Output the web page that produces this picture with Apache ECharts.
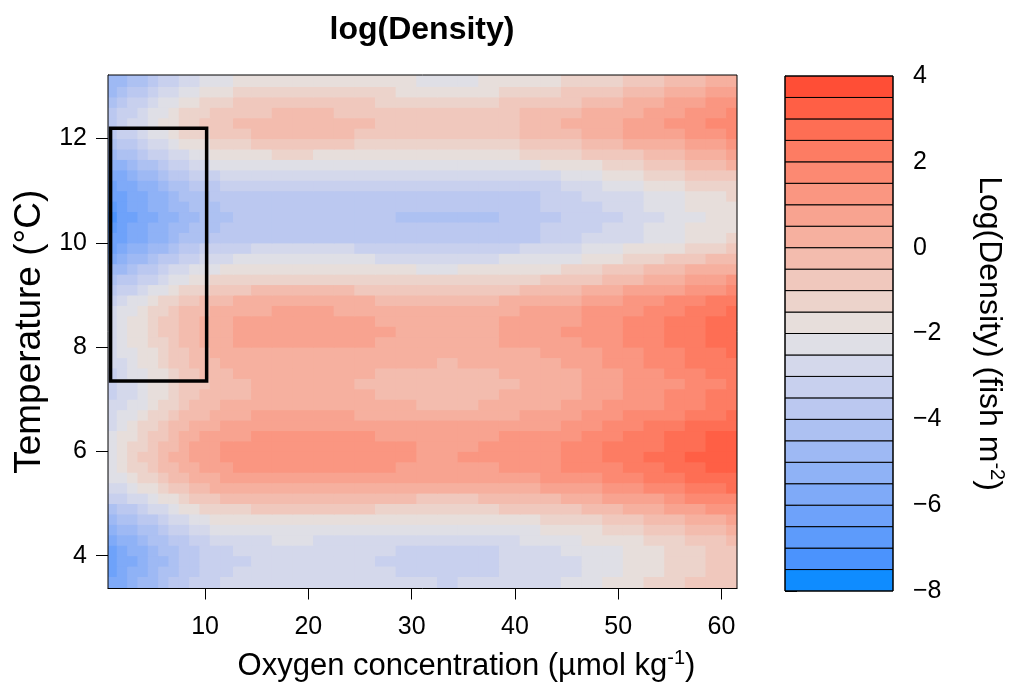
<!DOCTYPE html>
<html>
<head>
<meta charset="utf-8">
<script src="https://cdn.jsdelivr.net/npm/echarts@6/dist/echarts.min.js"></script>
<style>
  html, body { margin: 0; padding: 0; background: #fff; }
  #chart { width: 1011px; height: 687px; }
</style>
</head>
<body>
<div id="chart"></div>
<script>
// cell centres of the modelled surface (finer steps where the gradient is steep)
const oxygen = [1, 2, 3, 4, 5, 6, 7, 8, 9, 10, 11, 12,
  13.5, 15.5, 17.5, 19.5, 21.5, 23.5, 25.5, 27.5, 29.5, 31.5, 33.5, 35.5, 37.5,
  39.5, 41.5, 43.5, 45.5, 47.5, 49.5, 51.5, 53.5, 55.5, 57.5, 59.5, 61.5];
const temperature = [3.5, 3.7, 3.9, 4.1, 4.3, 4.5, 4.7, 4.9, 5.1, 5.3, 5.5, 5.7, 5.9, 6.1, 6.3,
  6.5, 6.7, 6.9, 7.1, 7.3, 7.5, 7.7, 7.9, 8.1, 8.3, 8.5, 8.7, 8.9, 9.1, 9.3, 9.5, 9.7, 9.9,
  10.1, 10.3, 10.5, 10.7, 10.9, 11.1, 11.3, 11.5, 11.7, 11.9, 12.1, 12.3, 12.5, 12.7, 12.9, 13.1];

// log(density): one row per temperature (bottom to top), one column per oxygen value
const logDensity = [
  [-5.91, -5.60, -5.29, -4.98, -4.66, -4.31, -3.98, -3.69, -3.44, -3.25, -3.08, -2.94, -2.80, -2.72, -2.68, -2.68, -2.69, -2.72, -2.78, -2.85, -2.93, -3.00, -3.03, -2.98, -2.90, -2.78, -2.68, -2.54, -2.36, -2.15, -1.94, -1.71, -1.48, -1.24, -0.96, -0.76, -0.58],
  [-6.06, -5.75, -5.44, -5.13, -4.81, -4.46, -4.13, -3.84, -3.59, -3.40, -3.23, -3.09, -2.95, -2.87, -2.83, -2.83, -2.84, -2.87, -2.93, -3.00, -3.08, -3.15, -3.18, -3.13, -3.05, -2.93, -2.83, -2.69, -2.51, -2.30, -2.09, -1.86, -1.63, -1.39, -1.11, -0.91, -0.73],
  [-6.13, -5.82, -5.51, -5.20, -4.88, -4.53, -4.20, -3.91, -3.66, -3.47, -3.30, -3.16, -3.02, -2.94, -2.90, -2.90, -2.91, -2.94, -3.00, -3.07, -3.15, -3.22, -3.25, -3.20, -3.12, -3.00, -2.90, -2.76, -2.58, -2.37, -2.16, -1.93, -1.70, -1.46, -1.18, -0.98, -0.80],
  [-6.03, -5.72, -5.41, -5.10, -4.78, -4.43, -4.10, -3.81, -3.56, -3.37, -3.20, -3.06, -2.92, -2.84, -2.80, -2.80, -2.81, -2.84, -2.90, -2.97, -3.05, -3.12, -3.15, -3.10, -3.02, -2.90, -2.80, -2.66, -2.48, -2.27, -2.06, -1.83, -1.60, -1.36, -1.08, -0.88, -0.70],
  [-5.73, -5.42, -5.11, -4.80, -4.48, -4.13, -3.80, -3.51, -3.26, -3.07, -2.90, -2.76, -2.62, -2.54, -2.50, -2.50, -2.51, -2.54, -2.60, -2.67, -2.75, -2.82, -2.85, -2.80, -2.72, -2.60, -2.50, -2.36, -2.18, -1.97, -1.76, -1.53, -1.30, -1.06, -0.78, -0.58, -0.40],
  [-5.31, -5.00, -4.69, -4.38, -4.06, -3.71, -3.38, -3.09, -2.84, -2.65, -2.48, -2.34, -2.20, -2.12, -2.08, -2.08, -2.09, -2.12, -2.18, -2.25, -2.33, -2.40, -2.43, -2.38, -2.30, -2.18, -2.08, -1.94, -1.76, -1.55, -1.34, -1.11, -0.88, -0.64, -0.36, -0.16, 0.02],
  [-4.78, -4.47, -4.16, -3.85, -3.53, -3.18, -2.85, -2.56, -2.31, -2.12, -1.95, -1.81, -1.67, -1.59, -1.55, -1.55, -1.56, -1.59, -1.65, -1.72, -1.80, -1.87, -1.90, -1.85, -1.77, -1.65, -1.55, -1.41, -1.23, -1.02, -0.81, -0.58, -0.35, -0.11, 0.17, 0.37, 0.55],
  [-4.13, -3.82, -3.51, -3.20, -2.88, -2.53, -2.20, -1.91, -1.66, -1.47, -1.30, -1.16, -1.02, -0.94, -0.90, -0.90, -0.91, -0.94, -1.00, -1.07, -1.15, -1.22, -1.25, -1.20, -1.12, -1.00, -0.90, -0.76, -0.58, -0.37, -0.16, 0.07, 0.30, 0.54, 0.82, 1.02, 1.20],
  [-3.45, -3.14, -2.83, -2.52, -2.20, -1.85, -1.52, -1.23, -0.98, -0.79, -0.62, -0.48, -0.34, -0.26, -0.22, -0.22, -0.23, -0.26, -0.32, -0.39, -0.47, -0.54, -0.57, -0.52, -0.44, -0.32, -0.22, -0.08, 0.10, 0.31, 0.52, 0.75, 0.98, 1.22, 1.50, 1.70, 1.88],
  [-2.83, -2.52, -2.21, -1.90, -1.58, -1.23, -0.90, -0.61, -0.36, -0.17, 0.00, 0.14, 0.28, 0.36, 0.40, 0.40, 0.39, 0.36, 0.30, 0.23, 0.15, 0.08, 0.05, 0.10, 0.18, 0.30, 0.40, 0.54, 0.72, 0.93, 1.14, 1.37, 1.60, 1.84, 2.12, 2.32, 2.50],
  [-2.50, -2.04, -1.73, -1.42, -1.10, -0.75, -0.42, -0.13, 0.12, 0.31, 0.48, 0.62, 0.76, 0.84, 0.88, 0.88, 0.87, 0.84, 0.78, 0.71, 0.63, 0.56, 0.53, 0.58, 0.66, 0.78, 0.88, 1.02, 1.20, 1.41, 1.62, 1.85, 2.08, 2.32, 2.60, 2.80, 2.98],
  [-2.30, -1.74, -1.43, -1.12, -0.80, -0.45, -0.12, 0.17, 0.42, 0.61, 0.78, 0.92, 1.06, 1.14, 1.18, 1.18, 1.17, 1.14, 1.08, 1.01, 0.93, 0.86, 0.83, 0.88, 0.96, 1.08, 1.18, 1.32, 1.50, 1.71, 1.92, 2.15, 2.38, 2.62, 2.90, 3.10, 3.28],
  [-2.20, -1.64, -1.31, -1.00, -0.68, -0.33, 0.00, 0.29, 0.54, 0.73, 0.90, 1.04, 1.18, 1.26, 1.30, 1.30, 1.29, 1.26, 1.20, 1.13, 1.05, 0.98, 0.95, 1.00, 1.08, 1.20, 1.30, 1.44, 1.62, 1.83, 2.04, 2.27, 2.50, 2.74, 3.02, 3.22, 3.40],
  [-2.22, -1.67, -1.34, -1.03, -0.71, -0.36, -0.03, 0.26, 0.51, 0.70, 0.87, 1.01, 1.15, 1.23, 1.27, 1.27, 1.26, 1.23, 1.17, 1.10, 1.02, 0.95, 0.92, 0.97, 1.05, 1.17, 1.27, 1.41, 1.59, 1.80, 2.01, 2.24, 2.47, 2.71, 2.99, 3.19, 3.37],
  [-2.35, -1.84, -1.51, -1.20, -0.88, -0.53, -0.20, 0.09, 0.34, 0.53, 0.70, 0.84, 0.98, 1.06, 1.10, 1.10, 1.09, 1.06, 1.00, 0.93, 0.85, 0.78, 0.75, 0.80, 0.88, 1.00, 1.10, 1.24, 1.42, 1.63, 1.84, 2.07, 2.30, 2.54, 2.82, 3.02, 3.20],
  [-2.55, -2.07, -1.76, -1.45, -1.13, -0.78, -0.45, -0.16, 0.09, 0.28, 0.45, 0.59, 0.73, 0.81, 0.85, 0.85, 0.84, 0.81, 0.75, 0.68, 0.60, 0.53, 0.50, 0.55, 0.63, 0.75, 0.85, 0.99, 1.17, 1.38, 1.59, 1.82, 2.05, 2.29, 2.57, 2.77, 2.95],
  [-2.68, -2.37, -2.06, -1.75, -1.43, -1.08, -0.75, -0.46, -0.21, -0.02, 0.15, 0.29, 0.43, 0.51, 0.55, 0.55, 0.54, 0.51, 0.45, 0.38, 0.30, 0.23, 0.20, 0.25, 0.33, 0.45, 0.55, 0.69, 0.87, 1.08, 1.29, 1.52, 1.75, 1.99, 2.27, 2.47, 2.65],
  [-2.96, -2.65, -2.34, -2.03, -1.71, -1.36, -1.03, -0.74, -0.49, -0.30, -0.13, 0.01, 0.15, 0.23, 0.27, 0.27, 0.26, 0.23, 0.17, 0.10, 0.02, -0.05, -0.08, -0.03, 0.05, 0.17, 0.27, 0.41, 0.59, 0.80, 1.01, 1.24, 1.47, 1.71, 1.99, 2.19, 2.37],
  [-3.13, -2.82, -2.51, -2.20, -1.88, -1.53, -1.20, -0.91, -0.66, -0.47, -0.30, -0.16, -0.02, 0.06, 0.10, 0.10, 0.09, 0.06, 0.00, -0.07, -0.15, -0.22, -0.25, -0.20, -0.12, 0.00, 0.10, 0.24, 0.42, 0.63, 0.84, 1.07, 1.30, 1.54, 1.82, 2.02, 2.20],
  [-3.18, -2.87, -2.56, -2.25, -1.93, -1.58, -1.25, -0.96, -0.71, -0.52, -0.35, -0.21, -0.07, 0.01, 0.05, 0.05, 0.04, 0.01, -0.05, -0.12, -0.20, -0.27, -0.30, -0.25, -0.17, -0.05, 0.05, 0.19, 0.37, 0.58, 0.79, 1.02, 1.25, 1.49, 1.77, 1.97, 2.15],
  [-3.11, -2.80, -2.49, -2.18, -1.86, -1.51, -1.18, -0.89, -0.64, -0.45, -0.28, -0.14, 0.00, 0.08, 0.12, 0.12, 0.11, 0.08, 0.02, -0.05, -0.13, -0.20, -0.23, -0.18, -0.10, 0.02, 0.12, 0.26, 0.44, 0.65, 0.86, 1.09, 1.32, 1.56, 1.84, 2.04, 2.22],
  [-2.91, -2.60, -2.29, -1.98, -1.66, -1.31, -0.98, -0.69, -0.44, -0.25, -0.08, 0.06, 0.20, 0.28, 0.32, 0.32, 0.31, 0.28, 0.22, 0.15, 0.07, 0.00, -0.03, 0.02, 0.10, 0.22, 0.32, 0.46, 0.64, 0.85, 1.06, 1.29, 1.52, 1.76, 2.04, 2.24, 2.42],
  [-2.78, -2.47, -2.16, -1.85, -1.53, -1.18, -0.85, -0.56, -0.31, -0.12, 0.05, 0.19, 0.33, 0.41, 0.45, 0.45, 0.44, 0.41, 0.35, 0.28, 0.20, 0.13, 0.10, 0.15, 0.23, 0.35, 0.45, 0.59, 0.77, 0.98, 1.19, 1.42, 1.65, 1.89, 2.17, 2.37, 2.55],
  [-2.61, -2.30, -1.99, -1.68, -1.36, -1.01, -0.68, -0.39, -0.14, 0.05, 0.22, 0.36, 0.50, 0.58, 0.62, 0.62, 0.61, 0.58, 0.52, 0.45, 0.37, 0.30, 0.27, 0.32, 0.40, 0.52, 0.62, 0.76, 0.94, 1.15, 1.36, 1.59, 1.82, 2.06, 2.34, 2.54, 2.72],
  [-2.55, -2.24, -1.93, -1.62, -1.30, -0.95, -0.62, -0.33, -0.08, 0.11, 0.28, 0.42, 0.56, 0.64, 0.68, 0.68, 0.67, 0.64, 0.58, 0.51, 0.43, 0.36, 0.33, 0.38, 0.46, 0.58, 0.68, 0.82, 1.00, 1.21, 1.42, 1.65, 1.88, 2.12, 2.40, 2.60, 2.78],
  [-2.60, -2.29, -1.98, -1.67, -1.35, -1.00, -0.67, -0.38, -0.13, 0.06, 0.23, 0.37, 0.51, 0.59, 0.63, 0.63, 0.62, 0.59, 0.53, 0.46, 0.38, 0.31, 0.28, 0.33, 0.41, 0.53, 0.63, 0.77, 0.95, 1.16, 1.37, 1.60, 1.83, 2.07, 2.35, 2.55, 2.73],
  [-2.71, -2.40, -2.09, -1.78, -1.46, -1.11, -0.78, -0.49, -0.24, -0.05, 0.12, 0.26, 0.40, 0.48, 0.52, 0.52, 0.51, 0.48, 0.42, 0.35, 0.27, 0.20, 0.17, 0.22, 0.30, 0.42, 0.52, 0.66, 0.84, 1.05, 1.26, 1.49, 1.72, 1.96, 2.24, 2.44, 2.62],
  [-3.08, -2.77, -2.46, -2.15, -1.83, -1.48, -1.15, -0.86, -0.61, -0.42, -0.25, -0.11, 0.03, 0.11, 0.15, 0.15, 0.14, 0.11, 0.05, -0.02, -0.10, -0.17, -0.20, -0.15, -0.07, 0.05, 0.15, 0.29, 0.47, 0.68, 0.89, 1.12, 1.35, 1.59, 1.87, 2.07, 2.25],
  [-3.68, -3.37, -3.06, -2.75, -2.43, -2.08, -1.75, -1.46, -1.21, -1.02, -0.85, -0.71, -0.57, -0.49, -0.45, -0.45, -0.46, -0.49, -0.55, -0.62, -0.70, -0.77, -0.80, -0.75, -0.67, -0.55, -0.45, -0.31, -0.13, 0.08, 0.29, 0.52, 0.75, 0.99, 1.27, 1.47, 1.65],
  [-4.28, -3.97, -3.66, -3.35, -3.03, -2.68, -2.35, -2.06, -1.81, -1.62, -1.45, -1.31, -1.17, -1.09, -1.05, -1.05, -1.06, -1.09, -1.15, -1.22, -1.30, -1.37, -1.40, -1.35, -1.27, -1.15, -1.05, -0.91, -0.73, -0.52, -0.31, -0.08, 0.15, 0.39, 0.67, 0.87, 1.05],
  [-4.93, -4.62, -4.31, -4.00, -3.68, -3.33, -3.00, -2.71, -2.46, -2.27, -2.10, -1.96, -1.82, -1.74, -1.70, -1.70, -1.71, -1.74, -1.80, -1.87, -1.95, -2.02, -2.05, -2.00, -1.92, -1.80, -1.70, -1.56, -1.38, -1.17, -0.96, -0.73, -0.50, -0.26, 0.02, 0.22, 0.40],
  [-5.58, -5.27, -4.96, -4.65, -4.33, -3.98, -3.65, -3.36, -3.11, -2.92, -2.75, -2.61, -2.47, -2.39, -2.35, -2.35, -2.36, -2.39, -2.45, -2.52, -2.60, -2.67, -2.70, -2.65, -2.57, -2.45, -2.35, -2.21, -2.03, -1.82, -1.61, -1.38, -1.15, -0.91, -0.63, -0.43, -0.25],
  [-6.03, -5.73, -5.44, -5.14, -4.85, -4.52, -4.21, -3.94, -3.69, -3.50, -3.34, -3.21, -3.07, -2.99, -2.95, -2.95, -2.96, -2.99, -3.05, -3.12, -3.20, -3.27, -3.30, -3.25, -3.17, -3.05, -2.95, -2.81, -2.63, -2.42, -2.21, -1.98, -1.75, -1.51, -1.23, -1.03, -0.85],
  [-6.45, -6.16, -5.88, -5.60, -5.33, -5.03, -4.74, -4.48, -4.24, -4.05, -3.90, -3.77, -3.64, -3.56, -3.52, -3.52, -3.53, -3.56, -3.62, -3.69, -3.77, -3.84, -3.87, -3.82, -3.74, -3.62, -3.52, -3.38, -3.20, -2.99, -2.78, -2.55, -2.32, -2.08, -1.80, -1.60, -1.42],
  [-6.90, -6.27, -5.99, -5.71, -5.44, -5.14, -4.85, -4.59, -4.35, -4.16, -4.01, -3.88, -3.75, -3.67, -3.63, -3.63, -3.64, -3.67, -3.73, -3.80, -3.88, -3.95, -3.98, -3.93, -3.85, -3.73, -3.63, -3.49, -3.31, -3.10, -2.89, -2.66, -2.43, -2.19, -1.91, -1.71, -1.53],
  [-7.05, -6.44, -6.16, -5.88, -5.61, -5.31, -5.02, -4.76, -4.52, -4.33, -4.18, -4.05, -3.92, -3.84, -3.80, -3.80, -3.81, -3.84, -3.90, -3.97, -4.05, -4.12, -4.15, -4.10, -4.02, -3.90, -3.80, -3.66, -3.48, -3.27, -3.06, -2.83, -2.60, -2.36, -2.08, -1.88, -1.70],
  [-6.90, -6.27, -5.99, -5.71, -5.44, -5.14, -4.85, -4.59, -4.35, -4.16, -4.01, -3.88, -3.75, -3.67, -3.63, -3.63, -3.64, -3.67, -3.73, -3.80, -3.88, -3.95, -3.98, -3.93, -3.85, -3.73, -3.63, -3.49, -3.31, -3.10, -2.89, -2.66, -2.43, -2.19, -1.91, -1.71, -1.53],
  [-6.45, -6.16, -5.88, -5.60, -5.33, -5.03, -4.74, -4.48, -4.24, -4.05, -3.90, -3.77, -3.64, -3.56, -3.52, -3.52, -3.53, -3.56, -3.62, -3.69, -3.77, -3.84, -3.87, -3.82, -3.74, -3.62, -3.52, -3.38, -3.20, -2.99, -2.78, -2.55, -2.32, -2.08, -1.80, -1.60, -1.42],
  [-6.23, -5.93, -5.64, -5.34, -5.05, -4.72, -4.41, -4.14, -3.89, -3.70, -3.54, -3.41, -3.27, -3.19, -3.15, -3.15, -3.16, -3.19, -3.25, -3.32, -3.40, -3.47, -3.50, -3.45, -3.37, -3.25, -3.15, -3.01, -2.83, -2.62, -2.41, -2.18, -1.95, -1.71, -1.43, -1.23, -1.05],
  [-5.88, -5.57, -5.26, -4.95, -4.63, -4.28, -3.95, -3.66, -3.41, -3.22, -3.05, -2.91, -2.77, -2.69, -2.65, -2.65, -2.66, -2.69, -2.75, -2.82, -2.90, -2.97, -3.00, -2.95, -2.87, -2.75, -2.65, -2.51, -2.33, -2.12, -1.91, -1.68, -1.45, -1.21, -0.93, -0.73, -0.55],
  [-5.33, -5.02, -4.71, -4.40, -4.08, -3.73, -3.40, -3.11, -2.86, -2.67, -2.50, -2.36, -2.22, -2.14, -2.10, -2.10, -2.11, -2.14, -2.20, -2.27, -2.35, -2.42, -2.45, -2.40, -2.32, -2.20, -2.10, -1.96, -1.78, -1.57, -1.36, -1.13, -0.90, -0.66, -0.38, -0.18, 0.00],
  [-4.73, -4.42, -4.11, -3.80, -3.48, -3.13, -2.80, -2.51, -2.26, -2.07, -1.90, -1.76, -1.62, -1.54, -1.50, -1.50, -1.51, -1.54, -1.60, -1.67, -1.75, -1.82, -1.85, -1.80, -1.72, -1.60, -1.50, -1.36, -1.18, -0.97, -0.76, -0.53, -0.30, -0.06, 0.22, 0.42, 0.60],
  [-4.18, -3.87, -3.56, -3.25, -2.93, -2.58, -2.25, -1.96, -1.71, -1.52, -1.35, -1.21, -1.07, -0.99, -0.95, -0.95, -0.96, -0.99, -1.05, -1.12, -1.20, -1.27, -1.30, -1.25, -1.17, -1.05, -0.95, -0.81, -0.63, -0.42, -0.21, 0.02, 0.25, 0.49, 0.77, 0.97, 1.15],
  [-3.68, -3.37, -3.06, -2.75, -2.43, -2.08, -1.75, -1.46, -1.21, -1.02, -0.85, -0.71, -0.57, -0.49, -0.45, -0.45, -0.46, -0.49, -0.55, -0.62, -0.70, -0.77, -0.80, -0.75, -0.67, -0.55, -0.45, -0.31, -0.13, 0.08, 0.29, 0.52, 0.75, 0.99, 1.27, 1.47, 1.65],
  [-3.53, -3.22, -2.91, -2.60, -2.28, -1.93, -1.60, -1.31, -1.06, -0.87, -0.70, -0.56, -0.42, -0.34, -0.30, -0.30, -0.31, -0.34, -0.40, -0.52, -0.55, -0.62, -0.65, -0.60, -0.52, -0.51, -0.30, -0.16, 0.02, 0.23, 0.44, 0.67, 0.90, 1.14, 1.42, 1.62, 1.80],
  [-3.71, -3.40, -3.09, -2.78, -2.46, -2.11, -1.78, -1.49, -1.24, -1.05, -0.88, -0.74, -0.60, -0.52, -0.48, -0.48, -0.49, -0.52, -0.58, -0.65, -0.73, -0.80, -0.83, -0.78, -0.70, -0.58, -0.48, -0.34, -0.16, 0.05, 0.26, 0.49, 0.72, 0.96, 1.24, 1.44, 1.62],
  [-4.08, -3.77, -3.46, -3.15, -2.83, -2.48, -2.15, -1.86, -1.61, -1.42, -1.25, -1.11, -0.97, -0.89, -0.85, -0.85, -0.86, -0.89, -0.95, -1.02, -1.10, -1.17, -1.20, -1.15, -1.07, -0.95, -0.85, -0.71, -0.53, -0.32, -0.11, 0.12, 0.35, 0.59, 0.87, 1.07, 1.25],
  [-4.53, -4.22, -3.91, -3.60, -3.28, -2.93, -2.60, -2.31, -2.06, -1.87, -1.70, -1.56, -1.42, -1.34, -1.30, -1.30, -1.31, -1.34, -1.40, -1.47, -1.55, -1.62, -1.65, -1.60, -1.52, -1.40, -1.30, -1.16, -0.98, -0.77, -0.56, -0.33, -0.10, 0.14, 0.42, 0.62, 0.80],
  [-4.98, -4.67, -4.36, -4.05, -3.73, -3.38, -3.05, -2.76, -2.51, -2.32, -2.15, -2.01, -1.87, -1.79, -1.75, -1.75, -1.76, -1.79, -1.85, -1.92, -2.00, -2.07, -2.10, -2.05, -1.97, -1.85, -1.75, -1.61, -1.43, -1.22, -1.01, -0.78, -0.55, -0.31, -0.03, 0.17, 0.35]
];

// contour levels (lower bound of each band) and their colours
const levels = [-8, -7.5, -7, -6.5, -6, -5.5, -5, -4.5, -4, -3.5, -3, -2.5,
  -2, -1.5, -1, -0.5, 0, 0.5, 1, 1.5, 2, 2.5, 3, 3.5];
const levelColors = ['#0f8cff', '#4b93fd', '#5d9bfb', '#6ea2fa', '#7faaf8', '#8fb2f6', '#9eb9f4', '#adc1f2',
  '#bbc8f0', '#c8d0ee', '#d4d8eb', '#dfdfe6', '#e7dedb', '#ecd3cb', '#f0c8bd', '#f3bcae',
  '#f6b09f', '#f8a390', '#fa9681', '#fc8972', '#fd7c63', '#fe6e54', '#ff5f45', '#ff4e36'];

// highlighted region: oxygen from, oxygen to, temperature from, temperature to
const focusBox = [0.85, 10.15, 7.35, 12.2];

const oxygenTicks = [10, 20, 30, 40, 50, 60];
const temperatureTicks = [4, 6, 8, 10, 12];

const font = 'Liberation Sans, Arial, Helvetica, sans-serif';
const chart = echarts.init(document.getElementById('chart'));
const step = levels[1] - levels[0];

// cell edges half way between neighbouring centres; outer cells overhang and get clipped
function edgesOf(centres) {
  const n = centres.length;
  return centres.map(function (c, i) {
    const lo = i === 0 ? c - (centres[1] - centres[0]) : (centres[i - 1] + c) / 2;
    const hi = i === n - 1 ? c + (c - centres[n - 2]) : (c + centres[i + 1]) / 2;
    return [lo, hi];
  });
}
const xEdges = edgesOf(oxygen);
const yEdges = edgesOf(temperature);

const cells = [];
temperature.forEach(function (t, j) {
  oxygen.forEach(function (o, i) {
    cells.push([o, t, logDensity[j][i], i, j]);
  });
});

const boxLine = [
  [focusBox[0], focusBox[3]], [focusBox[1], focusBox[3]],
  [focusBox[1], focusBox[2]], [focusBox[0], focusBox[2]], [focusBox[0], focusBox[3]]
];

function renderCell(params, api) {
  const xe = xEdges[api.value(3)];
  const ye = yEdges[api.value(4)];
  const a = api.coord([xe[0], ye[1]]);
  const b = api.coord([xe[1], ye[0]]);
  const cs = params.coordSys;
  const shape = echarts.graphic.clipRectByRect(
    { x: a[0] - 0.5, y: a[1] - 0.5, width: b[0] - a[0] + 1, height: b[1] - a[1] + 1 },
    { x: cs.x, y: cs.y, width: cs.width, height: cs.height }
  );
  if (!shape) return null;
  return { type: 'rect', shape: shape, style: { fill: api.visual('color') } };
}

function renderKeyBand(params, api) {
  const lo = api.value(1);
  const top = api.coord([0, lo + step]);
  const bottom = api.coord([0, lo]);
  const cs = params.coordSys;
  return {
    type: 'rect',
    shape: { x: cs.x, y: top[1], width: cs.width, height: bottom[1] - top[1] },
    style: { fill: levelColors[params.dataIndex], stroke: '#000', lineWidth: 1 }
  };
}

const minus = function (v) { return String(v).replace('-', '\u2212'); };

const option = {
  animation: false,
  textStyle: { fontFamily: font, color: '#000' },
  title: {
    text: 'log(Density)',
    left: 417,
    top: 9,
    textAlign: 'center',
    textStyle: { fontFamily: font, fontSize: 32, fontWeight: 'bold', color: '#000' }
  },
  grid: [
    { left: 108, top: 75, width: 629, height: 516, show: true, borderColor: '#000', borderWidth: 1, backgroundColor: 'transparent', z: 10 },
    { left: 785, top: 76, width: 108, height: 515, show: true, borderColor: '#000', borderWidth: 1, backgroundColor: 'transparent', z: 10 }
  ],
  xAxis: [
    {
      gridIndex: 0, type: 'value', min: 0.6, max: 61.5,
      axisLine: { show: true, lineStyle: { color: '#000', width: 1 } },
      axisTick: { show: true, length: 11, customValues: oxygenTicks, lineStyle: { color: '#000' } },
      axisLabel: { customValues: oxygenTicks, fontSize: 25, margin: 26, color: '#000', fontFamily: font },
      splitLine: { show: false },
      name: '{a|Oxygen concentration (\u00b5mol kg}{s|-1}{a|)}',
      nameLocation: 'middle', nameGap: 60,
      nameTextStyle: {
        padding: [0, 0, 0, 88],
        rich: {
          a: { fontSize: 31, fontFamily: font, color: '#000', lineHeight: 36 },
          s: { fontSize: 20, fontFamily: font, color: '#000', verticalAlign: 'top', lineHeight: 36 }
        }
      }
    },
    { gridIndex: 1, type: 'value', min: 0, max: 1, show: false }
  ],
  yAxis: [
    {
      gridIndex: 0, type: 'value', min: 3.37, max: 13.22,
      axisLine: { show: true, lineStyle: { color: '#000', width: 1 } },
      axisTick: { show: true, length: 12, customValues: temperatureTicks, lineStyle: { color: '#000' } },
      axisLabel: { customValues: temperatureTicks, fontSize: 25, margin: 21, color: '#000', fontFamily: font },
      splitLine: { show: false },
      name: 'Temperature (\u00b0C)',
      nameLocation: 'middle', nameGap: 58, nameRotate: 90,
      nameTextStyle: { fontSize: 37, fontFamily: font, color: '#000' }
    },
    {
      gridIndex: 1, type: 'value', min: -8, max: 4, interval: 2, position: 'right',
      axisLine: { show: true, lineStyle: { color: '#000', width: 1 } },
      axisTick: { show: true, length: 12, lineStyle: { color: '#000' } },
      axisLabel: { fontSize: 25, margin: 20, color: '#000', fontFamily: font, formatter: minus },
      splitLine: { show: false },
      name: '{a|Log(Density) (fish m}{s|-2}{a|)}',
      nameLocation: 'middle', nameGap: 78, nameRotate: -90,
      nameTextStyle: {
        rich: {
          a: { fontSize: 32, fontFamily: font, color: '#000', lineHeight: 36 },
          s: { fontSize: 20, fontFamily: font, color: '#000', verticalAlign: 'top', lineHeight: 36 }
        }
      }
    }
  ],
  visualMap: {
    type: 'piecewise',
    show: false,
    seriesIndex: 0,
    dimension: 2,
    pieces: levels.map(function (lo, k) {
      return { gte: lo, lt: lo + step, color: levelColors[k] };
    })
  },
  series: [
    {
      type: 'custom',
      name: 'logDensity',
      xAxisIndex: 0, yAxisIndex: 0,
      renderItem: renderCell,
      data: cells,
      silent: true,
      z: 2
    },
    {
      type: 'line',
      name: 'focus',
      xAxisIndex: 0, yAxisIndex: 0,
      data: boxLine,
      symbol: 'none',
      silent: true,
      lineStyle: { color: '#000', width: 3.5, join: 'miter', cap: 'square' },
      z: 12
    },
    {
      type: 'custom',
      name: 'key',
      xAxisIndex: 1, yAxisIndex: 1,
      renderItem: renderKeyBand,
      data: levels.map(function (lo) { return [0, lo]; }),
      silent: true,
      z: 2
    }
  ]
};

chart.setOption(option);
</script>
</body>
</html>
